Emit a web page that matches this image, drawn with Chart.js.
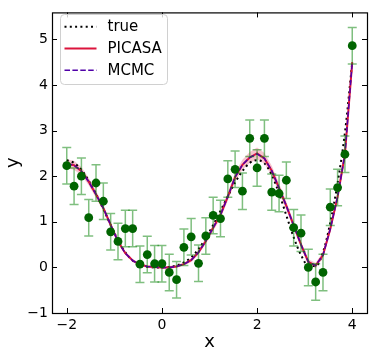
<!DOCTYPE html>
<html>
<head>
<meta charset="utf-8">
<script src="https://cdn.jsdelivr.net/npm/chart.js@4"></script>
<style>
html, body { margin: 0; padding: 0; background: #fff; }
canvas { display: block; }
</style>
</head>
<body>
<canvas id="fit-chart" width="374" height="358"></canvas>
<script>
// sample positions (same grid for data and curves)
const xs = [-2.000, -1.846, -1.692, -1.538, -1.385, -1.231, -1.077, -0.923, -0.769, -0.615,
            -0.462, -0.308, -0.154, 0.000, 0.154, 0.308, 0.462, 0.615, 0.769, 0.923,
            1.077, 1.231, 1.385, 1.538, 1.692, 1.846, 2.000, 2.154, 2.308, 2.462,
            2.615, 2.769, 2.923, 3.077, 3.231, 3.385, 3.538, 3.692, 3.846, 4.000];

// observed points, error = 0.4 on all of them
const yObs = [2.23, 1.78, 2.00, 1.09, 1.85, 1.45, 0.78, 0.57, 0.85, 0.85,
              0.07, 0.28, 0.08, 0.08, -0.11, -0.27, 0.44, 0.67, 0.09, 0.69,
              1.14, 1.07, 1.94, 2.15, 1.67, 2.83, 2.18, 2.83, 1.65, 1.62,
              1.91, 0.87, 0.75, 0.00, -0.32, -0.11, 1.32, 1.75, 2.48, 4.86];
const yErr = 0.4;

const yTrue = [2.35, 2.29, 2.14, 1.90, 1.61, 1.28, 0.93, 0.60, 0.33, 0.15,
               0.05, 0.01, 0.00, 0.00, 0.01, 0.04, 0.11, 0.22, 0.40, 0.64,
               0.93, 1.24, 1.56, 1.86, 2.11, 2.29, 2.35, 2.28, 2.03, 1.62,
               1.14, 0.66, 0.27, 0.04, 0.03, 0.33, 0.98, 1.85, 2.95, 4.50];

const yPicasa = [2.27, 2.24, 2.11, 1.88, 1.60, 1.30, 0.93, 0.57, 0.31, 0.15,
                 0.06, 0.02, 0.01, 0.00, 0.00, 0.02, 0.07, 0.16, 0.33, 0.58,
                 0.87, 1.15, 1.55, 1.98, 2.25, 2.41, 2.50, 2.39, 2.12, 1.74,
                 1.35, 0.92, 0.50, 0.12, 0.04, 0.27, 0.84, 1.55, 2.48, 4.50];
const picasaSpread = [0.10, 0.10, 0.09, 0.08, 0.08, 0.07, 0.06, 0.05, 0.04, 0.03,
                      0.03, 0.03, 0.03, 0.03, 0.03, 0.03, 0.03, 0.04, 0.05, 0.06,
                      0.07, 0.08, 0.09, 0.10, 0.11, 0.12, 0.13, 0.12, 0.11, 0.10,
                      0.09, 0.08, 0.07, 0.06, 0.06, 0.07, 0.08, 0.09, 0.10, 0.10];

const yMcmc = [2.27, 2.24, 2.11, 1.88, 1.60, 1.30, 0.93, 0.57, 0.31, 0.15,
               0.06, 0.02, 0.01, 0.00, 0.00, 0.02, 0.07, 0.16, 0.33, 0.58,
               0.87, 1.15, 1.55, 1.98, 2.25, 2.41, 2.49, 2.39, 2.12, 1.74,
               1.35, 0.92, 0.50, 0.12, 0.04, 0.27, 0.84, 1.55, 2.48, 4.50];

const xTicks = [-2, 0, 2, 4];
const yTicks = [-1, 0, 1, 2, 3, 4, 5];

const FONT = 'DejaVu Sans';
const pts = (ys) => xs.map((x, i) => ({x: x, y: ys[i]}));
const minus = (v) => v < 0 ? '\u2212' + Math.abs(v) : String(v);

// error bars go in right before the points dataset
const errorBars = {
    id: 'errorBars',
    beforeDatasetDraw(chart, args) {
        if (args.index !== 0) return;
        const ctx = chart.ctx;
        const sx = chart.scales.x, sy = chart.scales.y;
        ctx.save();
        ctx.strokeStyle = 'rgba(0, 128, 0, 0.5)';
        ctx.lineWidth = 1.5;
        xs.forEach(function(x, i) {
            const px = sx.getPixelForValue(x);
            const top = sy.getPixelForValue(yObs[i] + yErr);
            const bot = sy.getPixelForValue(yObs[i] - yErr);
            ctx.beginPath();
            ctx.moveTo(px, top); ctx.lineTo(px, bot);
            ctx.moveTo(px - 4.5, top); ctx.lineTo(px + 4.5, top);
            ctx.moveTo(px - 4.5, bot); ctx.lineTo(px + 4.5, bot);
            ctx.stroke();
        });
        ctx.restore();
    }
};

// box around the plot with inward ticks on all four sides
const frameTicks = {
    id: 'frameTicks',
    afterDatasetsDraw(chart) {
        const ctx = chart.ctx;
        const a = chart.chartArea;
        const sx = chart.scales.x, sy = chart.scales.y;
        ctx.save();
        ctx.strokeStyle = '#000';
        ctx.lineWidth = 1;
        ctx.beginPath();
        sx.ticks.forEach(function(t) {
            const px = Math.round(sx.getPixelForValue(t.value)) + 0.5;
            ctx.moveTo(px, a.bottom); ctx.lineTo(px, a.bottom - 5);
            ctx.moveTo(px, a.top); ctx.lineTo(px, a.top + 5);
        });
        sy.ticks.forEach(function(t) {
            const py = Math.round(sy.getPixelForValue(t.value)) + 0.5;
            ctx.moveTo(a.left, py); ctx.lineTo(a.left + 5, py);
            ctx.moveTo(a.right, py); ctx.lineTo(a.right - 5, py);
        });
        ctx.stroke();
        ctx.lineWidth = 1.2;
        ctx.strokeRect(a.left + 0.5, a.top + 0.5, a.right - a.left, a.bottom - a.top);
        ctx.restore();
    }
};

const legendOrder = ['true', 'PICASA', 'MCMC'];
const legendBox = {
    id: 'legendBox',
    afterDraw(chart) {
        const ctx = chart.ctx;
        ctx.save();
        ctx.beginPath();
        ctx.roundRect(60.5, 14.5, 107, 70, 4);
        ctx.fillStyle = 'rgba(255, 255, 255, 0.8)';
        ctx.fill();
        ctx.strokeStyle = '#d0d0d0';
        ctx.lineWidth = 1;
        ctx.stroke();
        ctx.font = '15px "' + FONT + '"';
        ctx.textBaseline = 'middle';
        ctx.fillStyle = '#000';
        legendOrder.forEach(function(name, i) {
            const ds = chart.data.datasets.find(d => d.label === name);
            const y = 26.7 + i * 21.8;
            ctx.beginPath();
            ctx.setLineDash(ds.borderDash || []);
            ctx.strokeStyle = ds.borderColor;
            ctx.lineWidth = ds.borderWidth;
            ctx.moveTo(64.5, y); ctx.lineTo(96.5, y);
            ctx.stroke();
            ctx.setLineDash([]);
            ctx.fillText(name, 107.5, y + 0.7);
        });
        ctx.restore();
    }
};

const ctx = document.getElementById('fit-chart').getContext('2d');
new Chart(ctx, {
    type: 'scatter',
    data: {
        datasets: [
            {
                label: 'data',
                data: pts(yObs),
                backgroundColor: '#006400',
                borderWidth: 0,
                pointRadius: 4.4
            },
            {
                label: 'MCMC',
                type: 'line',
                data: pts(yMcmc),
                borderColor: '#5000a8',
                borderWidth: 1.5,
                borderDash: [5.5, 2.4],
                pointRadius: 0,
                tension: 0,
                fill: false
            },
            {
                label: 'PICASA',
                type: 'line',
                data: pts(yPicasa),
                borderColor: '#dc143c',
                borderWidth: 2,
                pointRadius: 0,
                tension: 0,
                fill: false
            },
            {
                label: 'true',
                type: 'line',
                data: pts(yTrue),
                borderColor: '#000',
                borderWidth: 2,
                borderDash: [2, 3.3],
                pointRadius: 0,
                cubicInterpolationMode: 'monotone',
                fill: false
            },
            {
                label: 'band hi',
                type: 'line',
                data: pts(yPicasa.map((v, i) => v + picasaSpread[i])),
                borderWidth: 0,
                pointRadius: 0,
                backgroundColor: 'rgba(220, 20, 60, 0.25)',
                fill: '+1'
            },
            {
                label: 'band lo',
                type: 'line',
                data: pts(yPicasa.map((v, i) => v - picasaSpread[i])),
                borderWidth: 0,
                pointRadius: 0,
                fill: false
            }
        ]
    },
    options: {
        responsive: false,
        animation: false,
        layout: { padding: { left: 0, top: 6, right: 7, bottom: 0 } },
        plugins: {
            legend: { display: false },
            tooltip: { enabled: false }
        },
        scales: {
            x: {
                type: 'linear',
                min: -2.31,
                max: 4.31,
                grid: { display: false, drawTicks: false },
                border: { display: false },
                afterBuildTicks: function(s) { s.ticks = xTicks.map(v => ({value: v})); },
                afterFit: function(s) { s.height = 45; },
                ticks: {
                    color: '#000',
                    padding: 4,
                    maxRotation: 0,
                    font: { family: FONT, size: 14 },
                    callback: minus
                },
                title: {
                    display: true,
                    text: 'x',
                    color: '#000',
                    font: { family: FONT, size: 18 },
                    padding: { top: 0, bottom: 5 }
                }
            },
            y: {
                type: 'linear',
                min: -1,
                max: 5.59,
                grid: { display: false, drawTicks: false },
                border: { display: false },
                afterBuildTicks: function(s) { s.ticks = yTicks.map(v => ({value: v})); },
                afterFit: function(s) { s.width = 52; },
                ticks: {
                    color: '#000',
                    padding: 4,
                    font: { family: FONT, size: 14 },
                    callback: minus
                },
                title: {
                    display: true,
                    text: 'y',
                    color: '#000',
                    font: { family: FONT, size: 18 },
                    padding: { top: 3, bottom: 0 }
                }
            }
        }
    },
    plugins: [errorBars, frameTicks, legendBox]
});
</script>
</body>
</html>
